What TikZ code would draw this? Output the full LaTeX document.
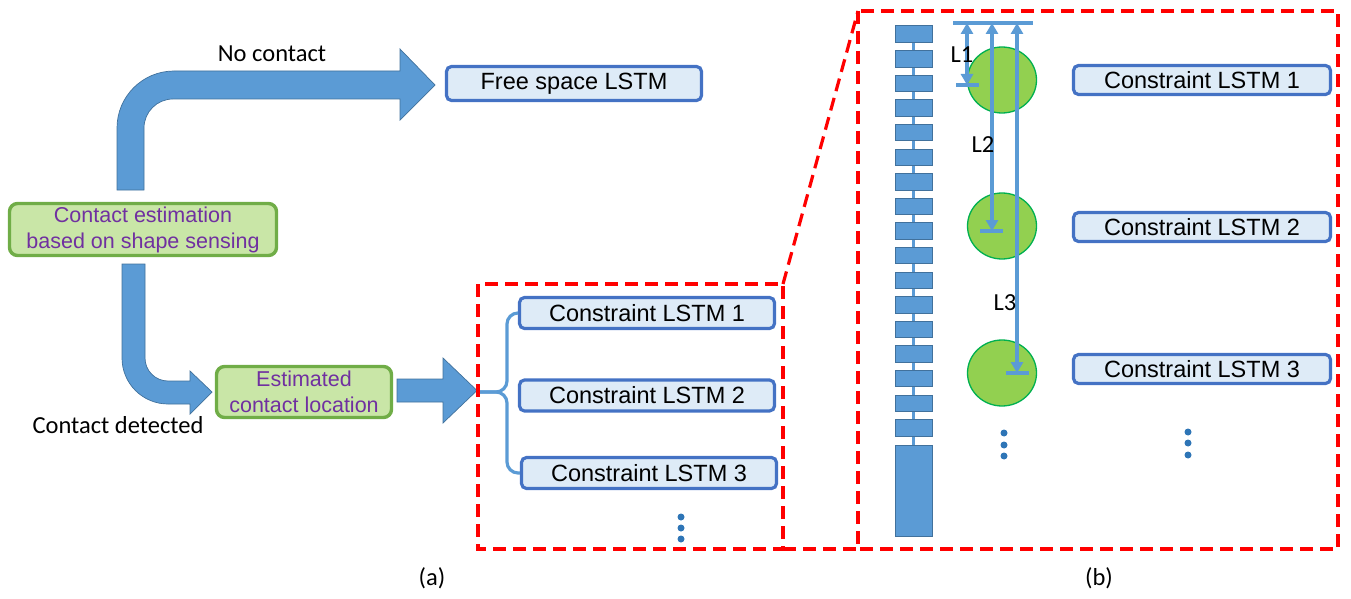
\documentclass[tikz,border=0pt]{standalone}
\usepackage{fontspec}
\setmainfont{Liberation Sans}
\newfontfamily\calfont{Carlito}
\usepackage{tikz}
\usetikzlibrary{positioning, shapes.geometric, arrows.meta}
\usepackage{xcolor}
\definecolor{arrblue}{RGB}{91,155,213}
\definecolor{arredge}{RGB}{65,113,156}
\definecolor{boxblue}{RGB}{68,114,196}
\definecolor{boxfill}{RGB}{222,235,247}
\definecolor{estfill}{RGB}{201,230,167}
\definecolor{estedge}{RGB}{112,173,71}
\definecolor{esttext}{RGB}{112,48,160}
\definecolor{ballfill}{RGB}{146,208,80}
\definecolor{balledge}{RGB}{0,176,80}
\definecolor{dotblue}{RGB}{46,117,182}

\begin{document}
\begin{tikzpicture}[x=1pt, y=-1pt,
    lstm/.style={draw=boxblue, fill=boxfill, line width=3.2pt, rounded corners=5pt,
        minimum width=255pt, minimum height=31pt, inner sep=0pt,
        font=\fontsize{23.5}{26}\selectfont},
    estbox/.style={draw=estedge, fill=estfill, line width=3.4pt, rounded corners=8pt,
        inner sep=0pt, text=esttext, align=center,
        font=\fontsize{21.5}{26}\selectfont},
    blockarrow/.style={fill=arrblue, draw=arredge, line width=0.7pt},
    zoomline/.style={draw=red, line width=3.2pt, dash pattern=on 13pt off 7pt},
    segment/.style={fill=arrblue, draw=arredge, line width=1pt},
    ball/.style={ellipse, fill=ballfill, draw=balledge, line width=1.3pt,
        minimum width=69pt, minimum height=66pt, inner sep=0pt},
    lenline/.style={draw=arrblue, line width=3.2pt},
    lentip/.style={lenline, {Triangle[length=11pt,width=12pt]}-{Triangle[length=11pt,width=12pt]}},
    bluedot/.style={circle, fill=dotblue, inner sep=0pt, minimum size=7pt},
    callabel/.style={font=\calfont\fontsize{24.5}{26}\selectfont}]
\useasboundingbox (0,0) rectangle (1351,599);

% (a) pipeline
\node[estbox, minimum width=267pt, minimum height=52pt] (cest) at (143,229.5)
    {Contact estimation\\based on shape sensing};
\node[estbox, minimum width=175pt, minimum height=51pt] (est) at (304,392)
    {Estimated\\contact location};
\node[lstm, minimum height=34pt] (fs) at (574,83.5) {Free space LSTM};

\draw[blockarrow] (117,190) -- (117,128) arc[start angle=180, end angle=270, radius=57]
    -- (400,71) -- (400,49) -- (435,85) -- (400,120) -- (400,99) -- (173,99)
    arc[start angle=270, end angle=180, radius=29] -- (144,190) -- cycle;
\draw[blockarrow] (122,264) -- (122,358) arc[start angle=180, end angle=90, radius=46]
    -- (190,404) -- (190,414) -- (212,392) -- (190,371) -- (190,381) -- (168,381)
    arc[start angle=90, end angle=180, radius=23] -- (145,264) -- cycle;
\draw[blockarrow] (397,379) -- (443,379) -- (443,358) -- (477,390.5) -- (443,423)
    -- (443,402) -- (397,402) -- cycle;

\node[callabel] (nocon) at (272,54) {No contact};
\node[callabel] (condet) at (118,425) {Contact detected};

\node[lstm] (lc1) at (647,313) {Constraint LSTM 1};
\node[lstm] (lc2) at (647,395.5) {Constraint LSTM 2};
\node[lstm] (lc3) at (649,473) {Constraint LSTM 3};
\coordinate (split) at (479,392);
\draw[lenline, rounded corners=11pt] (split) -- (507,392) |- (lc1.west);
\draw[lenline, rounded corners=11pt] (split) -- (507,392) |- (lc3.west);
\foreach \y in {517,528,539} \node[bluedot] at (681,\y) {};

% zoom frames
\draw[zoomline] (478,284) rectangle (783,549);
\draw[zoomline] (858,11) rectangle (1338,549);
\draw[zoomline] (783,284) -- (858,11);
\draw[zoomline] (783,549) -- (858,549);

% (b) tube and contacts
\draw[arrblue, line width=3.5pt] (913.5,30) -- (913.5,450);
\foreach \i in {0,...,16}
    \draw[segment] (895,{26+24.6*\i}) rectangle (932,{42.5+24.6*\i});
\draw[segment] (895,445) rectangle (932,536);

\node[ball] (b1) at (1002,80) {};
\node[ball] (b2) at (1002,226) {};
\node[ball] (b3) at (1002,373) {};
\foreach \y in {433,445,456} \node[bluedot] at (1004,\y) {};

\coordinate (tl) at (953,23);
\coordinate (tr) at (1033,23);
\draw[lenline] (tl) -- (tr);
\coordinate (t1) at (967,85);
\coordinate (t2) at (992,231);
\coordinate (t3) at (1017,373);
\draw[lenline] (956,85) -- (979,85);
\draw[lenline] (980,231) -- (1003,231);
\draw[lenline] (1006,373) -- (1029,373);
\draw[lentip] (t1 |- tl) -- (t1);
\draw[lentip] (t2 |- tl) -- (t2);
\draw[lentip] (t3 |- tl) -- (t3);
\node[callabel] (l1) at (962,55) {L1};
\node[callabel] (l2) at (983,145) {L2};
\node[callabel] (l3) at (1005,303) {L3};

\node[lstm, minimum width=257pt, minimum height=29pt] (rc1) at (1202,80) {Constraint LSTM 1};
\node[lstm, minimum width=257pt, minimum height=29pt] (rc2) at (1202,227) {Constraint LSTM 2};
\node[lstm, minimum width=257pt, minimum height=29pt] (rc3) at (1202,369) {Constraint LSTM 3};
\foreach \y in {432,443,455} \node[bluedot] at (1188,\y) {};

\node[callabel] (capa) at (432,578) {(a)};
\node[callabel] (capb) at (1099,578) {(b)};
\end{tikzpicture}
\end{document}
